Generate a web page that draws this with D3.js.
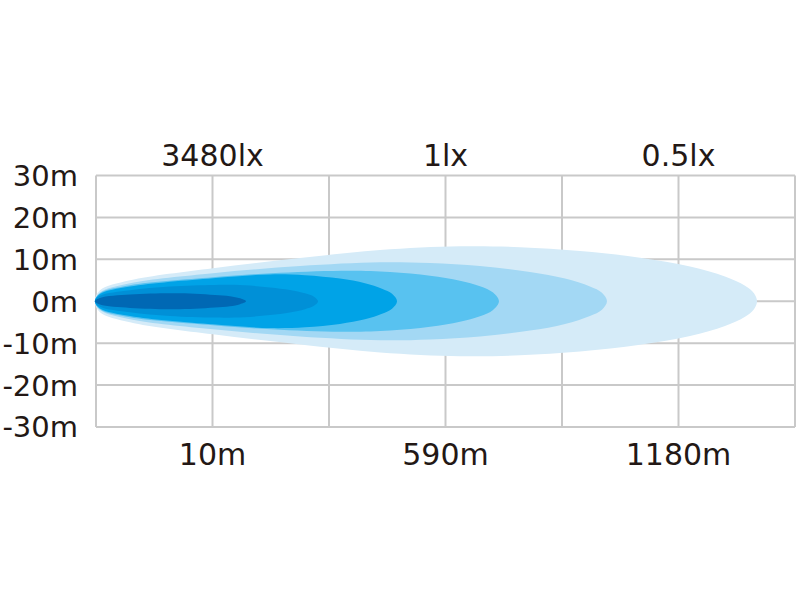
<!DOCTYPE html>
<html>
<head>
<meta charset="utf-8">
<script src="https://cdn.jsdelivr.net/npm/d3@7"></script>
<style>
  html, body { margin: 0; padding: 0; background: #ffffff; }
  svg { display: block; }
  text { font-family: "DejaVu Sans", sans-serif; fill: #231815; }
</style>
</head>
<body>
<div id="chart"></div>
<script>
// ---- data ----
// y axis (metres across the beam)
const yTicks = [30, 20, 10, 0, -10, -20, -30];
const yTickLabels = ["30m", "20m", "10m", "0m", "-10m", "-20m", "-30m"];
// x axis: grid columns along the beam
const xGrid = [0, 1, 2, 3, 4, 5, 6];
const xLabelCols = [1, 3, 5];
const distanceLabels = ["10m", "590m", "1180m"];
const luxLabels = ["3480lx", "1lx", "0.5lx"];

// beam contours (outer to inner): distance along beam (grid columns) and half-width (m)
const layerNames = ["0.5lx", "1lx", "3lx", "10lx", "50lx", "3480lx"];
const layerColors = ["#d5ebf8", "#a3d8f4", "#58c2f0", "#00a3e7", "#0090d7", "#0068b4"];
const layer1Dist = [-0.01, 0.034, 0.292, 1.004, 1.751, 2.438, 3.124, 3.639, 4.155, 4.670, 5.099, 5.399, 5.571, 5.648, 5.674];
const layer1Half = [0, 2.6, 5.0, 7.9, 10.3, 12.2, 13.1, 12.9, 12.0, 10.4, 8.3, 5.9, 3.7, 1.9, 0];
const layer2Dist = [-0.01, 0.034, 0.292, 1.004, 1.751, 2.438, 2.867, 3.296, 3.725, 4.026, 4.240, 4.343, 4.386];
const layer2Half = [0, 2.1, 4.3, 6.7, 8.4, 9.3, 9.1, 8.4, 7.0, 5.4, 3.5, 2.0, 0];
const layer3Dist = [-0.01, 0.034, 0.292, 1.004, 1.579, 2.180, 2.524, 2.867, 3.124, 3.296, 3.408, 3.459];
const layer3Half = [0, 1.9, 3.8, 5.7, 6.8, 7.3, 7.0, 6.1, 4.9, 3.6, 2.1, 0];
const layer4Dist = [-0.01, 0.034, 0.292, 1.004, 1.494, 1.794, 2.094, 2.309, 2.455, 2.541, 2.584];
const layer4Half = [0, 1.7, 3.5, 5.5, 6.4, 6.2, 5.4, 4.3, 3.0, 1.8, 0];
const layer5Dist = [-0.01, 0.034, 0.292, 0.635, 1.021, 1.279, 1.494, 1.665, 1.794, 1.871, 1.906];
const layer5Half = [0, 1.3, 2.6, 3.5, 3.9, 3.8, 3.3, 2.7, 1.9, 1.1, 0];
const layer6Dist = [-0.01, 0.034, 0.292, 0.635, 0.850, 1.021, 1.150, 1.236, 1.288];
const layer6Half = [0, 0.8, 1.6, 1.9, 1.8, 1.5, 1.2, 0.7, 0];

const layers = [
  [layer1Dist, layer1Half], [layer2Dist, layer2Half], [layer3Dist, layer3Half],
  [layer4Dist, layer4Half], [layer5Dist, layer5Half], [layer6Dist, layer6Half]
];

// ---- chart ----
const W = 800, H = 600;
const svg = d3.select("#chart").append("svg").attr("width", W).attr("height", H);

const x = d3.scaleLinear().domain([0, 6]).range([96, 795]);
const y = d3.scaleLinear().domain([-30, 30]).range([427, 175.5]);

const gridColor = "#c9c9c9";
const grid = svg.append("g");
grid.selectAll("line.h").data(yTicks).enter().append("line")
  .attr("x1", x(0)).attr("x2", x(6))
  .attr("y1", d => y(d)).attr("y2", d => y(d))
  .attr("stroke", gridColor).attr("stroke-width", 2);
grid.selectAll("line.v").data(xGrid).enter().append("line")
  .attr("x1", d => x(d)).attr("x2", d => x(d))
  .attr("y1", y(30)).attr("y2", y(-30))
  .attr("stroke", gridColor).attr("stroke-width", 2);

// beam
const line = d3.line().x(d => x(d[0])).y(d => y(d[1])).curve(d3.curveCatmullRomClosed.alpha(0.5));
layers.forEach((L, i) => {
  const dist = L[0], half = L[1];
  const pts = [];
  for (let k = 0; k < dist.length; k++) pts.push([dist[k], half[k]]);
  for (let k = dist.length - 2; k >= 1; k--) pts.push([dist[k], -half[k]]);
  svg.append("path").attr("d", line(pts)).attr("fill", layerColors[i]).attr("data-name", layerNames[i]);
});

// y labels
svg.append("g").selectAll("text").data(yTicks).enter().append("text")
  .attr("x", 78).attr("y", d => y(d)).attr("dy", "0.36em")
  .attr("text-anchor", "end").attr("font-size", 29)
  .text((d, i) => yTickLabels[i]);

// top lux labels
svg.append("g").selectAll("text").data(xLabelCols).enter().append("text")
  .attr("x", d => x(d)).attr("y", 166)
  .attr("text-anchor", "middle").attr("font-size", 30)
  .text((d, i) => luxLabels[i]);

// bottom distance labels
svg.append("g").selectAll("text").data(xLabelCols).enter().append("text")
  .attr("x", d => x(d)).attr("y", 465)
  .attr("text-anchor", "middle").attr("font-size", 30)
  .text((d, i) => distanceLabels[i]);
</script>
</body>
</html>
